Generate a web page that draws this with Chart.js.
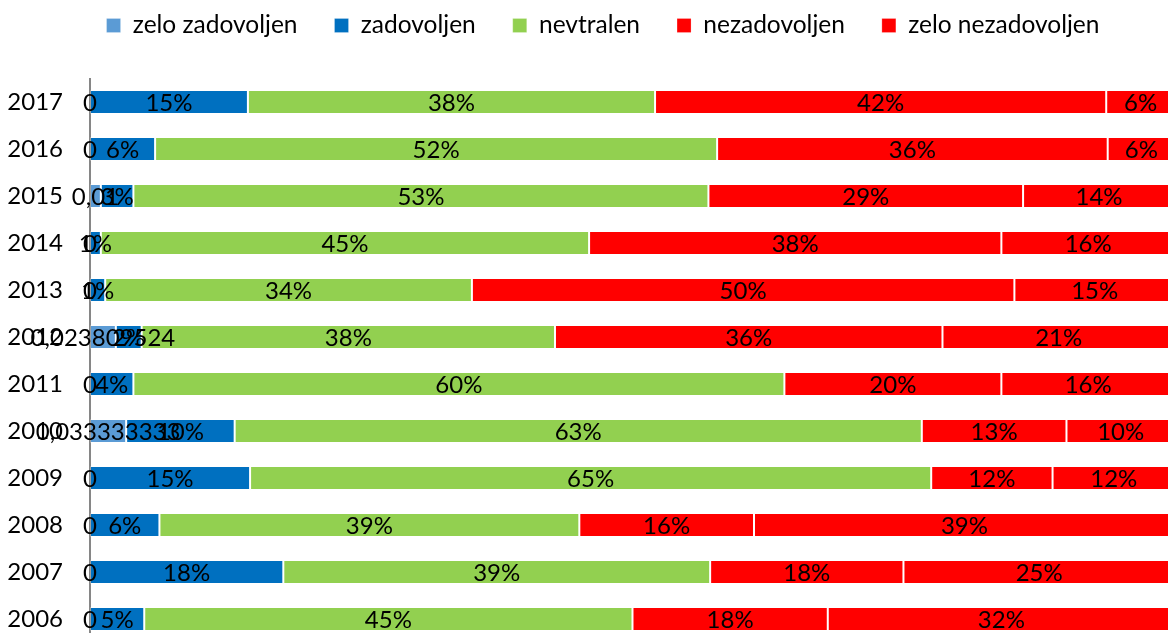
<!DOCTYPE html>
<html>
<head>
<meta charset="utf-8">
<script src="https://cdn.jsdelivr.net/npm/chart.js@4.4.1/dist/chart.umd.min.js"></script>
<style>
  html, body { margin: 0; padding: 0; background: #fff; overflow: hidden; }
  #okvir { width: 1168px; height: 633px; overflow: hidden; position: relative; }
  #graf { display: block; }
</style>
</head>
<body>
<div id="okvir">
  <canvas id="graf" width="1206" height="684" style="width:1206px;height:684px"></canvas>
</div>
<script>
const leta = ['2017', '2016', '2015', '2014', '2013', '2012', '2011', '2010', '2009', '2008', '2007', '2006'];
const imenaSerij = ['zelo zadovoljen', 'zadovoljen', 'nevtralen', 'nezadovoljen', 'zelo nezadovoljen'];
const barve = ['#5B9BD5', '#0070C0', '#92D050', '#FF0000', '#FF0000'];

const zeloZadovoljen = [0, 0, 0.01, 0, 0, 0.023809524, 0, 0.033333333, 0, 0, 0, 0];
const zadovoljen = [0.147, 0.06, 0.03, 0.01, 0.014, 0.023809524, 0.04, 0.1, 0.153, 0.064, 0.178, 0.05];
const nevtralen = [0.379, 0.518, 0.53, 0.45, 0.338, 0.380952381, 0.6, 0.633333333, 0.651, 0.387, 0.393, 0.45];
const nezadovoljen = [0.42, 0.36, 0.29, 0.38, 0.5, 0.357142857, 0.2, 0.133333333, 0.116, 0.161, 0.178, 0.18];
const zeloNezadovoljen = [0.064, 0.062, 0.14, 0.16, 0.148, 0.214285714, 0.16, 0.1, 0.117, 0.388, 0.25, 0.32];

const serije = [zeloZadovoljen, zadovoljen, nevtralen, nezadovoljen, zeloNezadovoljen];

const pisava = 'Lato, "Liberation Sans", sans-serif';
const velikost = 24;
const velikostLegende = 24.5;

// 100 % zložen stolpec: vsak odgovor kot delež vsote leta
const vsote = leta.map((_, i) => serije.reduce((s, arr) => s + arr[i], 0));

const datasets = serije.map((arr, k) => ({
    label: imenaSerij[k],
    data: arr.map((v, i) => v / vsote[i]),
    surove: arr,
    backgroundColor: barve[k],
    borderColor: 'rgba(255,255,255,0.22)',
    borderWidth: 1,
    borderSkipped: false,
    barPercentage: 0.51,
    categoryPercentage: 1.0
}));

const oznake = {
    id: 'oznake',
    afterDatasetsDraw(chart) {
        const ctx = chart.ctx;
        ctx.save();
        ctx.font = velikost + 'px ' + pisava;
        ctx.fillStyle = '#000';
        ctx.textAlign = 'center';
        ctx.textBaseline = 'middle';
        chart.data.datasets.forEach((ds, di) => {
            chart.getDatasetMeta(di).data.forEach((bar, i) => {
                const v = ds.surove[i];
                const txt = di === 0 ? String(v).replace('.', ',') : Math.round(v * 100) + '%';
                ctx.fillText(txt, (bar.x + bar.base) / 2, bar.y + 1);
            });
        });
        ctx.restore();
    }
};

const legendaRazmik = {
    id: 'legendaRazmik',
    beforeInit(chart) {
        const fit = chart.legend.fit;
        chart.legend.fit = function () {
            fit.call(this);
            this.height = 78.5;
        };
    },
    afterLayout(chart) {
        const l = chart.legend;
        const pad = l.options.labels.padding;
        l.top = 25.5 - pad - velikostLegende / 2;
    }
};

new Chart(document.getElementById('graf'), {
    type: 'bar',
    data: { labels: leta, datasets: datasets },
    plugins: [oznake, legendaRazmik],
    options: {
        indexAxis: 'y',
        responsive: false,
        maintainAspectRatio: false,
        animation: false,
        layout: { padding: { left: 0, right: 0, top: 0, bottom: 16.4 } },
        plugins: {
            legend: {
                position: 'top',
                labels: {
                    boxWidth: 14,
                    boxHeight: 14,
                    padding: 37,
                    color: '#000',
                    font: { family: pisava, size: velikostLegende }
                }
            },
            tooltip: { enabled: false }
        },
        scales: {
            x: {
                stacked: true,
                display: false,
                min: 0,
                max: 1.0286
            },
            y: {
                stacked: true,
                afterFit: (s) => { s.width = 90; },
                grid: { display: false, drawTicks: false },
                border: { display: true, color: '#868686', width: 2 },
                ticks: {
                    color: '#000',
                    padding: 27,
                    font: { family: pisava, size: velikost }
                }
            }
        }
    }
});
</script>
</body>
</html>
